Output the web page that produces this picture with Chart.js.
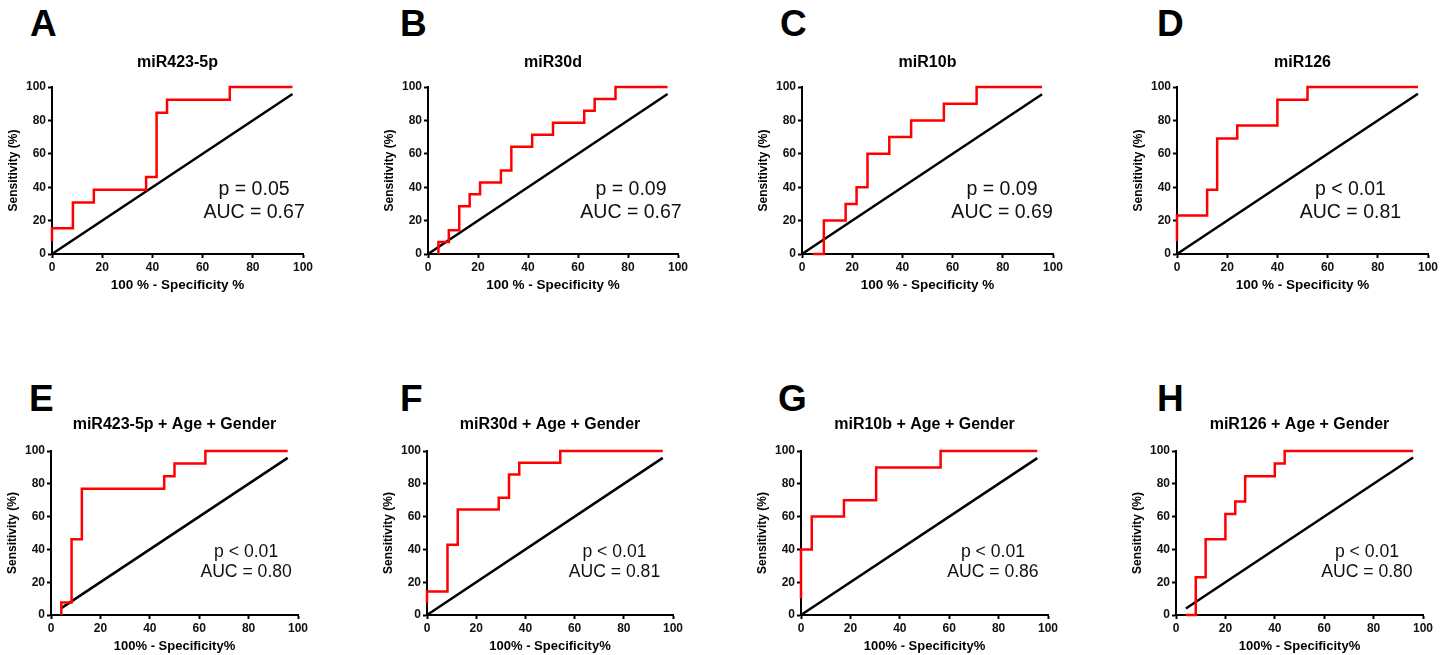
<!DOCTYPE html>
<html>
<head>
<meta charset="utf-8">
<title>ROC curves</title>
<script src="https://cdn.jsdelivr.net/npm/chart.js@4.4.1/dist/chart.umd.min.js"></script>
<style>
  html, body { margin: 0; padding: 0; background: #fff; }
  body { width: 1450px; height: 655px; position: relative; overflow: hidden; font-family: "Liberation Sans", Arial, sans-serif; }
  canvas { position: absolute; }
  .tag { position: absolute; font-size: 37px; font-weight: bold; line-height: 37px; color: #000; }
</style>
</head>
<body>
<script>
// values: x = 100 % - specificity %, y = sensitivity %
const panelLetters = ['A', 'B', 'C', 'D', 'E', 'F', 'G', 'H'];
const panelTitles = ['miR423-5p', 'miR30d', 'miR10b', 'miR126',
  'miR423-5p + Age + Gender', 'miR30d + Age + Gender', 'miR10b + Age + Gender', 'miR126 + Age + Gender'];
const xTitles = ['100 % - Specificity %', '100 % - Specificity %', '100 % - Specificity %', '100 % - Specificity %',
  '100% - Specificity%', '100% - Specificity%', '100% - Specificity%', '100% - Specificity%'];
const yTitle = 'Sensitivity (%)';
const pTexts = ['p = 0.05', 'p = 0.09', 'p = 0.09', 'p < 0.01', 'p < 0.01', 'p < 0.01', 'p < 0.01', 'p < 0.01'];
const aucTexts = ['AUC = 0.67', 'AUC = 0.67', 'AUC = 0.69', 'AUC = 0.81', 'AUC = 0.80', 'AUC = 0.81', 'AUC = 0.86', 'AUC = 0.80'];
const tickValues = [0, 20, 40, 60, 80, 100];

const fprA = [0, 0, 8.33, 8.33, 16.67, 16.67, 37.5, 37.5, 41.67, 41.67, 45.83, 45.83, 70.83, 70.83, 95.83];
const sensA = [7.69, 15.38, 15.38, 30.77, 30.77, 38.46, 38.46, 46.15, 46.15, 84.62, 84.62, 92.31, 92.31, 100, 100];
const diagA = [0, 95.83];

const fprB = [4.17, 4.17, 8.33, 8.33, 12.5, 12.5, 16.67, 16.67, 20.83, 20.83, 29.17, 29.17, 33.33, 33.33, 41.67, 41.67, 50, 50, 62.5, 62.5, 66.67, 66.67, 75, 75, 95.83];
const sensB = [0, 7.14, 7.14, 14.29, 14.29, 28.57, 28.57, 35.71, 35.71, 42.86, 42.86, 50, 50, 64.29, 64.29, 71.43, 71.43, 78.57, 78.57, 85.71, 85.71, 92.86, 92.86, 100, 100];
const diagB = [0, 95.83];

const fprC = [4.35, 8.7, 8.7, 17.39, 17.39, 21.74, 21.74, 26.09, 26.09, 34.78, 34.78, 43.48, 43.48, 56.52, 56.52, 69.57, 69.57, 95.65];
const sensC = [0, 0, 20, 20, 30, 30, 40, 40, 60, 60, 70, 70, 80, 80, 90, 90, 100, 100];
const diagC = [0, 95.65];

const fprD = [0, 0, 12, 12, 16, 16, 24, 24, 40, 40, 52, 52, 96];
const sensD = [7.69, 23.08, 23.08, 38.46, 38.46, 69.23, 69.23, 76.92, 76.92, 92.31, 92.31, 100, 100];
const diagD = [0, 96];

const fprE = [4.17, 4.17, 8.33, 8.33, 12.5, 12.5, 45.83, 45.83, 50, 50, 62.5, 62.5, 95.83];
const sensE = [0, 7.69, 7.69, 46.15, 46.15, 76.92, 76.92, 84.62, 84.62, 92.31, 92.31, 100, 100];
const diagE = [4.17, 95.83];

const fprF = [0, 0, 8.33, 8.33, 12.5, 12.5, 29.17, 29.17, 33.33, 33.33, 37.5, 37.5, 54.17, 54.17, 95.83];
const sensF = [7.14, 14.29, 14.29, 42.86, 42.86, 64.29, 64.29, 71.43, 71.43, 85.71, 85.71, 92.86, 92.86, 100, 100];
const diagF = [0, 95.83];

const fprG = [0, 0, 4.35, 4.35, 17.39, 17.39, 30.43, 30.43, 56.52, 56.52, 95.65];
const sensG = [10, 40, 40, 60, 60, 70, 70, 90, 90, 100, 100];
const diagG = [0, 95.65];

const fprH = [4, 8, 8, 12, 12, 20, 20, 24, 24, 28, 28, 40, 40, 44, 44, 96];
const sensH = [0, 0, 23.08, 23.08, 46.15, 46.15, 61.54, 61.54, 69.23, 69.23, 84.62, 84.62, 92.31, 92.31, 100, 100];
const diagH = [4, 96];

const curves = [[fprA, sensA, diagA], [fprB, sensB, diagB], [fprC, sensC, diagC], [fprD, sensD, diagD],
  [fprE, sensE, diagE], [fprF, sensF, diagF], [fprG, sensG, diagG], [fprH, sensH, diagH]];

// layout: plot area [left, top, right, bottom] in page pixels
const plotBoxes = [
  [52, 87, 303, 254], [428, 87, 678, 254], [802, 87, 1053, 254], [1177, 87, 1428, 254],
  [51, 451, 298, 615], [427, 451, 673, 615], [801, 451, 1048, 615], [1176, 451, 1423, 615]
];
const tagPos = [[30, 5], [400, 5], [780, 5], [1157, 5], [29, 380], [400, 380], [778, 380], [1157, 380]];
// anchor of the p / AUC note, in axis units: [x centre, p baseline, AUC baseline]
const notePos = [[80.5, 35.3, 21.4], [81.2, 35.3, 21.4], [79.7, 35.3, 21.4], [69.1, 35.3, 21.4],
  [79, 35.5, 23.4], [76.2, 35.5, 23.4], [77.7, 35.5, 23.4], [77.3, 35.5, 23.4]];

const FONT = '"Liberation Sans", Arial, sans-serif';
Chart.defaults.font.family = FONT;
Chart.defaults.color = '#111';

const notesPlugin = {
  id: 'notes',
  afterDatasetsDraw(chart, args, opts) {
    const { ctx, scales: { x, y } } = chart;
    ctx.save();
    ctx.font = opts.size + 'px ' + FONT;
    ctx.fillStyle = '#111';
    ctx.textAlign = 'center';
    ctx.textBaseline = 'alphabetic';
    const cx = x.getPixelForValue(opts.at[0]);
    ctx.fillText(opts.lines[0], cx, y.getPixelForValue(opts.at[1]));
    ctx.fillText(opts.lines[1], cx, y.getPixelForValue(opts.at[2]));
    ctx.restore();
  }
};

const YW = 50, XH = 45, TOPH = 40, RIGHTPAD = 20;

const axisBase = (title, titleSize, titlePad) => ({
  type: 'linear',
  min: 0,
  max: 100,
  afterBuildTicks: (scale) => { scale.ticks = tickValues.map(v => ({ value: v })); },
  border: { display: true, color: '#000', width: 2 },
  grid: { display: true, drawOnChartArea: false, drawTicks: true, tickLength: 4, tickColor: '#000', tickWidth: 2 },
  ticks: { padding: 2, color: '#111', font: { size: 12, weight: 'bold' } },
  title: { display: true, text: title, color: '#000', font: { size: titleSize, weight: 'bold', lineHeight: 1.2 }, padding: titlePad }
});

panelLetters.forEach((letter, i) => {
  const [pl, pt, pr, pb] = plotBoxes[i];
  const row2 = i >= 4;

  const tag = document.createElement('div');
  tag.className = 'tag';
  tag.textContent = letter;
  tag.style.left = tagPos[i][0] + 'px';
  tag.style.top = tagPos[i][1] + 'px';
  document.body.appendChild(tag);

  const canvas = document.createElement('canvas');
  canvas.width = (pr - pl) + YW + RIGHTPAD;
  canvas.height = (pb - pt) + TOPH + XH;
  canvas.style.left = (pl - YW) + 'px';
  canvas.style.top = (pt - TOPH) + 'px';
  document.body.appendChild(canvas);

  const [fpr, sens, diag] = curves[i];
  const xAxis = row2
    ? axisBase(xTitles[i], 13, { top: 0, bottom: 5.5 })
    : axisBase(xTitles[i], 13.5, { top: 0, bottom: 5.9 });
  xAxis.afterFit = (scale) => { scale.height = XH; };
  const yAxis = axisBase(yTitle, 12, { top: 4, bottom: 0 });
  yAxis.afterFit = (scale) => { scale.width = YW; };

  new Chart(canvas.getContext('2d'), {
    type: 'scatter',
    data: {
      datasets: [
        {
          label: panelTitles[i],
          data: fpr.map((v, k) => ({ x: v, y: sens[k] })),
          showLine: true,
          borderColor: '#ff0000',
          borderWidth: 2.5,
          borderJoinStyle: 'miter',
          pointRadius: 0,
          tension: 0,
          fill: false,
          clip: false
        },
        {
          label: 'reference',
          data: diag.map(v => ({ x: v, y: v })),
          showLine: true,
          borderColor: '#000',
          borderWidth: 2.5,
          pointRadius: 0,
          tension: 0,
          fill: false,
          clip: false
        }
      ]
    },
    options: {
      responsive: false,
      animation: false,
      devicePixelRatio: 1,
      layout: { padding: { left: 0, top: 0, right: RIGHTPAD, bottom: 0 } },
      scales: { x: xAxis, y: yAxis },
      plugins: {
        legend: { display: false },
        tooltip: { enabled: false },
        title: {
          display: true,
          text: panelTitles[i],
          fullSize: false,
          color: '#000',
          font: { size: 16, weight: 'bold', lineHeight: 1.2 },
          padding: row2 ? { top: 4.4, bottom: 16.4 } : { top: 6.4, bottom: 14.4 }
        },
        notes: {
          lines: [pTexts[i], aucTexts[i]],
          at: notePos[i],
          size: row2 ? 17.6 : 19.5
        }
      }
    },
    plugins: [notesPlugin]
  });
});
</script>
</body>
</html>
